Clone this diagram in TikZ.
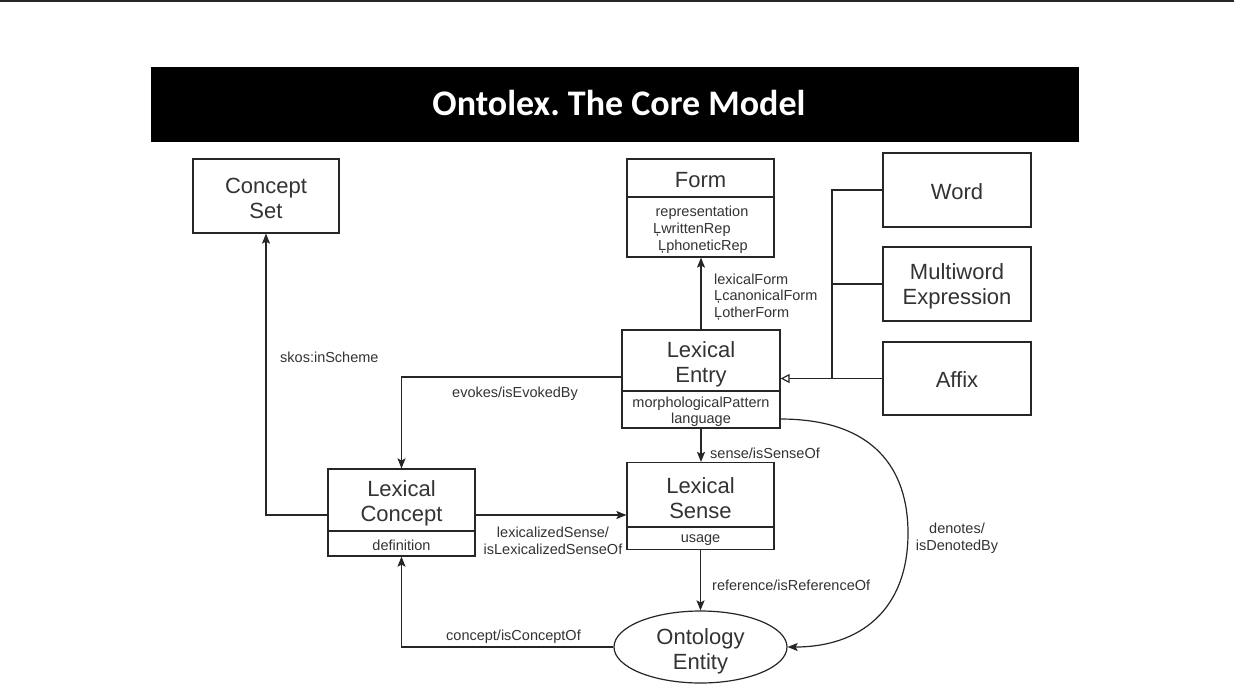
\documentclass[tikz,border=0pt]{standalone}
\usepackage{fontspec}
\setmainfont{Liberation Sans}
\newfontfamily\titlefont{Carlito}
\usetikzlibrary{arrows.meta,shapes.geometric}
\definecolor{ink}{HTML}{262626}
\definecolor{txt}{HTML}{333333}
\begin{document}
\frenchspacing
\begin{tikzpicture}[x=1pt,y=-1pt,
  box/.style={draw=ink,line width=1.2pt,inner sep=0pt,fill=white},
  big/.style={font=\fontsize{22}{25}\selectfont,text=txt,align=center,inner sep=0pt},
  small/.style={font=\fontsize{14.5}{16.5}\selectfont,text=txt,inner sep=0pt},
  lbl/.style={font=\fontsize{14.5}{16.5}\selectfont,text=txt,inner sep=0pt,align=center},
  conn/.style={draw=ink,line width=1.2pt,-{Stealth[length=10pt,width=8pt,inset=2pt]}},
  gen/.style={draw=ink,line width=1.2pt,-{Triangle[open,length=9pt,width=9pt,fill=white]}},
  plain/.style={draw=ink,line width=1.2pt}]
\useasboundingbox (0,0) rectangle (1234,683);
\fill[white] (0,0) rectangle (1234,683);
\draw[ink,line width=1.5pt] (0,0.75) -- (1234,0.75);

% title bar
\fill[black] (151,67) rectangle (1079,142);
\node[anchor=base,text=white,inner sep=0pt,font=\titlefont\bfseries\fontsize{36}{40}\selectfont] (title) at (619,115) {Ontolex. The Core Model};

% boxes
\node[box,minimum width=146,minimum height=74] (cset) at (266,196) {};
\node[big] (csett) at (266,198) {Concept\\Set};

\node[box,minimum width=147,minimum height=98] (form) at (700.5,208) {};
\draw[plain] (627,197) -- (774,197);
\node[big] (formt) at (700.5,180) {Form};
\node[small] (forma) at (702,213) {representation};
\node[small,anchor=west] (formb) at (653,230) {ĻwrittenRep};
\node[small,anchor=west] (formc) at (658,247) {ĻphoneticRep};

\node[box,minimum width=148,minimum height=74] (word) at (957,190) {};
\node[big] (wordt) at (957,192) {Word};
\node[box,minimum width=148,minimum height=74] (mwe) at (957,284) {};
\node[big] (mwet) at (957,286) {Multiword\\Expression};
\node[box,minimum width=148,minimum height=73] (affix) at (957,378.5) {};
\node[big] (affixt) at (957,380) {Affix};

\node[box,minimum width=158,minimum height=98] (lentry) at (701,379) {};
\draw[plain] (622,391) -- (780,391);
\node[big] (lentryt) at (701,364) {Lexical\\Entry};
\node[small] (lentrya) at (701,404) {morphologicalPattern};
\node[small] (lentryb) at (701,420) {language};

\node[box,minimum width=147,minimum height=87] (lsense) at (700.5,506) {};
\draw[plain] (627,527) -- (774,527);
\node[big] (lsenset) at (700.5,498) {Lexical\\Sense};
\node[small] (lsensea) at (700.5,540) {usage};

\node[box,minimum width=147,minimum height=87] (lconc) at (401.5,512.5) {};
\draw[plain] (328,531) -- (475,531);
\node[big] (lconct) at (401.5,503) {Lexical\\Concept};
\node[small] (lconca) at (401.5,545) {definition};

\node[box,ellipse,minimum width=173,minimum height=72] (entity) at (700.5,647) {};
\node[big] (entityt) at (700.5,651) {Ontology\\Entity};

% generalisation
\coordinate (junc) at (832,378.5);
\draw[plain] (word.west) -| (junc);
\draw[plain] (mwe.west) -| (junc);
\draw[gen] (affix.west) -- (affix.west -| lentry.east);

% connectors
\draw[conn] (lentry.north) -- (lentry.north |- form.south);
\node[small,anchor=west] (lf1) at (714,279) {lexicalForm};
\node[small,anchor=west] (lf2) at (714,297) {ĻcanonicalForm};
\node[small,anchor=west] (lf3) at (714,314) {ĻotherForm};

\draw[conn] (lentry.south) -- (lentry.south |- lsense.north);
\node[small,anchor=west] (senl) at (710,453) {sense/isSenseOf};

\draw[conn] (lsense.south) -- (lsense.south |- entity.north);
\node[small,anchor=west] (refl) at (712,585) {reference/isReferenceOf};

\coordinate (evk) at (622,377);
\draw[conn] (evk) -| (lconc.north);
\node[small,anchor=west] (evkl) at (452,394) {evokes/isEvokedBy};

\coordinate (skw) at (328,515);
\draw[conn] (skw) -| (cset.south);
\node[small,anchor=west] (skl) at (280,357) {skos:inScheme};

\draw[conn] (skw -| lconc.east) -- (skw -| lsense.west);
\node[lbl] (lexl) at (553,541) {lexicalizedSense/\\isLexicalizedSenseOf};

\draw[conn] (entity.west) -| (lconc.south);
\node[small,anchor=west] (conl) at (446,637) {concept/isConceptOf};

\coordinate (dst) at (780,419);
\draw[conn] (dst) .. controls (875,419) and (908,470) .. (908,533)
  .. controls (908,610) and (860,647) .. (entity.east);
\node[lbl] (denl) at (957,538) {denotes/\\isDenotedBy};
\end{tikzpicture}
\end{document}
